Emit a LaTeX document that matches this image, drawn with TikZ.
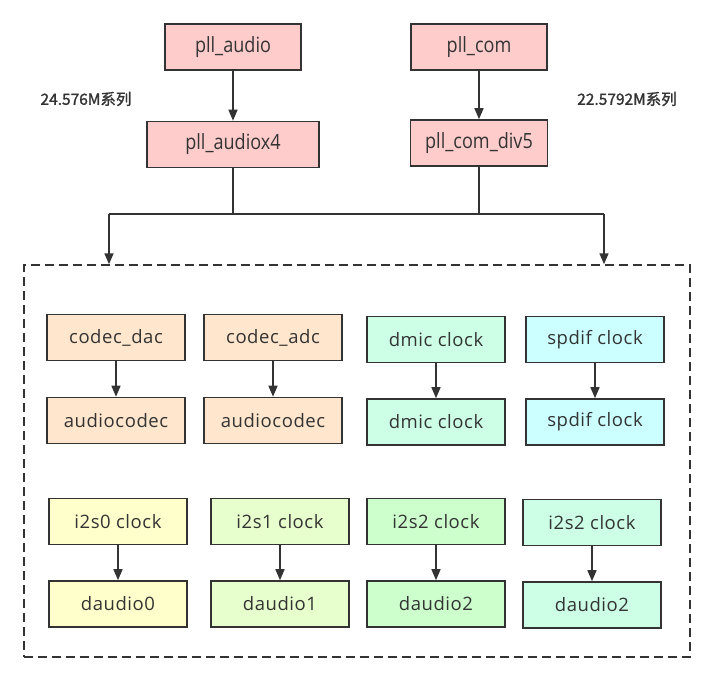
\documentclass[tikz,border=0pt]{standalone}
\usepackage{fontspec}
\setmainfont[LetterSpace=3]{Open Sans}
\newfontfamily\condfont[FakeStretch=0.86]{Open Sans}
\newfontfamily\cjkb[FakeBold=1.5]{Noto Sans CJK SC}
\usetikzlibrary{arrows.meta}
\definecolor{edge}{HTML}{333333}
\definecolor{pllfill}{HTML}{FFCCCC}
\definecolor{codecfill}{HTML}{FFE6CC}
\definecolor{mintfill}{HTML}{CCFFE6}
\definecolor{cyanfill}{HTML}{CCFFFF}
\definecolor{yelfill}{HTML}{FFFFCC}
\definecolor{limefill}{HTML}{E6FFCC}
\definecolor{greenfill}{HTML}{CCFFCC}
\tikzset{
  blk/.style={draw=edge, line width=1.6pt, text=edge, minimum width=138pt, minimum height=46pt, inner sep=0pt, font=\fontsize{18.5}{21}\selectfont},
  pllblk/.style={blk, fill=pllfill, minimum width=136pt, font=\condfont\fontsize{21}{24}\selectfont},
  arr/.style={draw=edge, line width=1.6pt, -{Triangle[length=11pt,width=9pt]}},
  ln/.style={draw=edge, line width=1.6pt},
  lbl/.style={text=edge, font=\cjkb\fontsize{15.5}{18}\selectfont, inner sep=0pt}
}
\begin{document}
\begin{tikzpicture}[x=1pt,y=-1pt]
\useasboundingbox (0,0) rectangle (715,682);
% top PLLs
\node[pllblk] (pa) at (233,47) {pll\_audio};
\node[pllblk] (pc) at (479,47) {pll\_com};
\node[pllblk, minimum width=172pt] (pa4) at (233,144.5) {pll\_audiox4};
\node[pllblk, minimum width=137pt] (pc5) at (479,143) {pll\_com\_div5};
\node[lbl] (l1) at (86,99) {24.576M系列};
\node[lbl] (l2) at (627,99) {22.5792M系列};
\draw[arr] (pa) -- (pa4);
\draw[arr] (pc) -- (pc5);
% group box
\node[draw=edge, line width=1.5pt, dash pattern=on 9pt off 5pt, minimum width=666pt, minimum height=392pt, inner sep=0pt] (grp) at (357,461) {};
\coordinate (jl) at (109,214);
\coordinate (jr) at (604,214);
\draw[ln] (jl) -- (jr);
\draw[ln] (pa4.south) -- (pa4.south |- jl);
\draw[ln] (pc5.south) -- (pc5.south |- jr);
\draw[arr] (jl) -- (jl |- grp.north);
\draw[arr] (jr) -- (jr |- grp.north);
% row 1
\node[blk, fill=codecfill] (cd) at (116,337.5) {codec\_dac};
\node[blk, fill=codecfill] (cdo) at (116,420.5) {audiocodec};
\node[blk, fill=codecfill] (ca) at (273,337.5) {codec\_adc};
\node[blk, fill=codecfill] (cao) at (273,420.5) {audiocodec};
\node[blk, fill=mintfill] (dm) at (436,339.5) {dmic clock};
\node[blk, fill=mintfill] (dmo) at (436,422) {dmic clock};
\node[blk, fill=cyanfill] (sp) at (595,339.5) {spdif clock};
\node[blk, fill=cyanfill] (spo) at (595,422) {spdif clock};
\draw[arr] (cd) -- (cdo);
\draw[arr] (ca) -- (cao);
\draw[arr] (dm) -- (dmo);
\draw[arr] (sp) -- (spo);
% row 2
\node[blk, fill=yelfill] (i0) at (118,521.5) {i2s0 clock};
\node[blk, fill=yelfill] (d0) at (118,604) {daudio0};
\node[blk, fill=limefill] (i1) at (280,521.5) {i2s1 clock};
\node[blk, fill=limefill] (d1) at (280,604) {daudio1};
\node[blk, fill=greenfill] (i2) at (436,521.5) {i2s2 clock};
\node[blk, fill=greenfill] (d2) at (436,604) {daudio2};
\node[blk, fill=mintfill] (i3) at (592,522.5) {i2s2 clock};
\node[blk, fill=mintfill] (d3) at (592,605) {daudio2};
\draw[arr] (i0) -- (d0);
\draw[arr] (i1) -- (d1);
\draw[arr] (i2) -- (d2);
\draw[arr] (i3) -- (d3);
\end{tikzpicture}
\end{document}
